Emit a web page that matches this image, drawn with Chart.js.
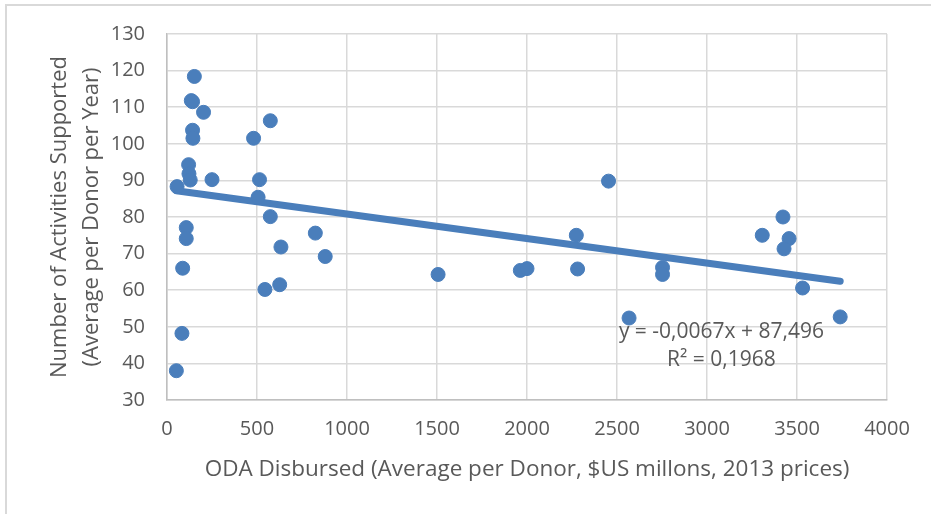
<!DOCTYPE html>
<html>
<head>
<meta charset="utf-8">
<script src="https://cdn.jsdelivr.net/npm/chart.js@4/dist/chart.umd.min.js"></script>
<style>
  html, body { margin: 0; padding: 0; background: #fff; }
  #wrap { position: relative; width: 931px; height: 514px; }
  #frame { position: absolute; left: 5px; top: 4px; right: 0; bottom: 0; border-top: 2px solid #d9d9d9; border-left: 2px solid #d9d9d9; pointer-events: none; }
</style>
</head>
<body>
<div id="wrap">
  <canvas id="chart" width="931" height="514"></canvas>
  <div id="frame"></div>
</div>
<script>
// ODA disbursed (x) and activities supported (y), one entry per donor
const odaDisbursed = [
  152, 135, 142, 203, 142, 144, 120, 122, 129, 250, 56,
  481, 574, 514, 506, 574, 107, 107, 824, 633, 879, 87,
  544, 626, 83, 52, 1506, 1963, 2000, 2274, 2281, 2453,
  2567, 2753, 2753, 3307, 3422, 3456, 3428, 3531, 3740
];
const activities = [
  118.4, 111.8, 111.5, 108.6, 103.7, 101.5, 94.3, 91.8, 90.1, 90.2, 88.3,
  101.5, 106.3, 90.2, 85.4, 80.1, 77.1, 74.1, 75.6, 71.8, 69.2, 66.0,
  60.2, 61.5, 48.2, 38.0, 64.3, 65.4, 65.9, 75.0, 65.8, 89.8,
  52.4, 66.2, 64.3, 75.0, 80.0, 74.1, 71.3, 60.6, 52.7
];

// linear trend as printed on the chart
const slope = -0.0067;
const intercept = 87.496;
const trendText = ["y = -0,0067x + 87,496", "R² = 0,1968"];

const xTicks = [0, 500, 1000, 1500, 2000, 2500, 3000, 3500, 4000];
const yTicks = [30, 40, 50, 60, 70, 80, 90, 100, 110, 120, 130];

const blue = '#4a7ebb';
const textGrey = '#595959';
const font = 'Open Sans';

let points = odaDisbursed.map((x, i) => ({ x: x, y: activities[i] }));
let xLo = Math.min(...odaDisbursed);
let xHi = Math.max(...odaDisbursed);
let trend = [
  { x: xLo, y: slope * xLo + intercept },
  { x: xHi, y: slope * xHi + intercept }
];

// equation label, anchored in data units
const eqLabel = {
  id: 'eqLabel',
  afterDatasetsDraw(chart) {
    const ctx = chart.ctx;
    const xs = chart.scales.x, ys = chart.scales.y;
    let cx = xs.getPixelForValue(3080);
    let cy = ys.getPixelForValue(48.6);
    ctx.save();
    ctx.font = '21px "' + font + '"';
    ctx.fillStyle = textGrey;
    ctx.textAlign = 'center';
    ctx.textBaseline = 'middle';
    ctx.fillText(trendText[0], cx, cy);
    ctx.fillText(trendText[1], cx, cy + 28);
    ctx.restore();
  }
};

new Chart(document.getElementById('chart'), {
  type: 'scatter',
  data: {
    datasets: [
      {
        type: 'line',
        data: trend,
        borderColor: blue,
        borderWidth: 7,
        pointRadius: 0,
        borderCapStyle: 'round',
        order: 2
      },
      {
        data: points,
        backgroundColor: blue,
        borderColor: blue,
        pointRadius: 7,
        pointHoverRadius: 7,
        order: 1
      }
    ]
  },
  options: {
    responsive: false,
    animation: false,
    layout: { padding: { left: 44, right: 44, top: 33, bottom: 26 } },
    plugins: {
      legend: { display: false },
      tooltip: { enabled: false }
    },
    scales: {
      x: {
        type: 'linear',
        min: 0,
        max: 4000,
        afterBuildTicks: (axis) => { axis.ticks = xTicks.map(v => ({ value: v })); },
        afterFit: (axis) => { axis.height = 88; },
        ticks: { color: textGrey, font: { family: font, size: 20 }, padding: 17, callback: (v) => String(v) },
        grid: { color: '#d9d9d9', lineWidth: 1.5, drawTicks: false },
        border: { color: '#bfbfbf', width: 1.5 },
        title: {
          display: true,
          text: 'ODA Disbursed (Average per Donor, $US millons, 2013 prices)',
          color: textGrey,
          font: { family: font, size: 22.5 },
          padding: { top: 0, bottom: 5 }
        }
      },
      y: {
        type: 'linear',
        min: 30,
        max: 130,
        afterBuildTicks: (axis) => { axis.ticks = yTicks.map(v => ({ value: v })); },
        afterFit: (axis) => { axis.width = 123; },
        ticks: { color: textGrey, font: { family: font, size: 20 }, padding: 22, callback: (v) => String(v) },
        grid: { color: '#d9d9d9', lineWidth: 1.5, drawTicks: false },
        border: { color: '#bfbfbf', width: 1.5 },
        title: {
          display: true,
          text: ['Number of Activities Supported', '(Average per Donor per Year)'],
          color: textGrey,
          font: { family: font, size: 22, lineHeight: 1.45 },
          padding: 0
        }
      }
    }
  },
  plugins: [eqLabel]
});
</script>
</body>
</html>
